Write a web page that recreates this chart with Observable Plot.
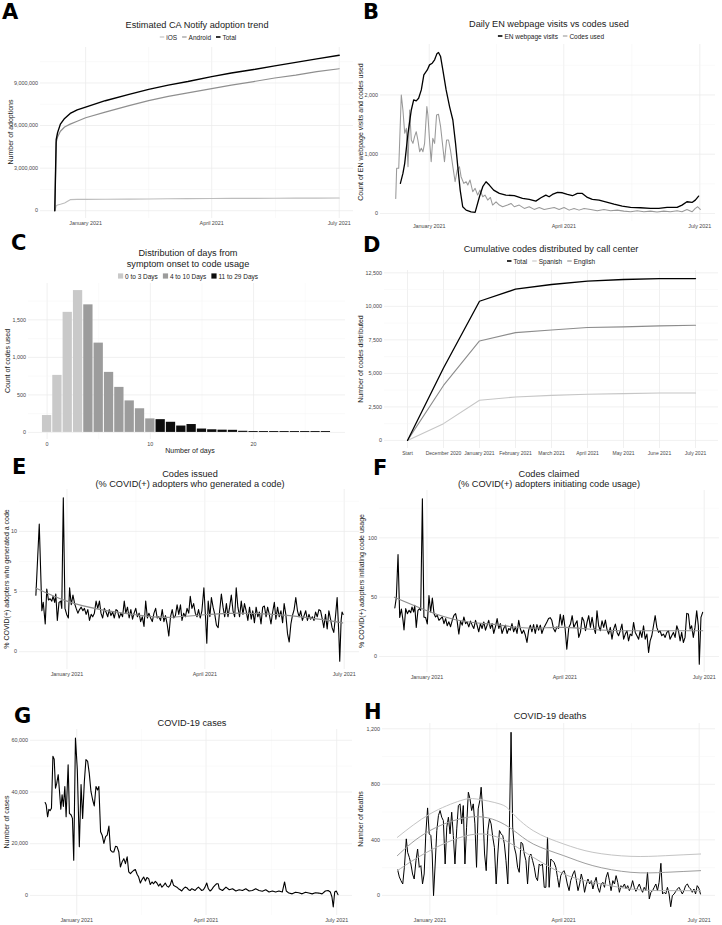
<!DOCTYPE html>
<html><head><meta charset="utf-8">
<script src="https://cdn.jsdelivr.net/npm/d3@7"></script>
<script src="https://cdn.jsdelivr.net/npm/@observablehq/plot@0.6"></script>
<style>
html,body{margin:0;padding:0;background:#fff;}
#root{position:relative;width:722px;height:925px;overflow:hidden;background:#fff;}
.pl{position:absolute;}
.pl svg{overflow:visible;display:block;}
#ov{position:absolute;left:0;top:0;pointer-events:none;}
</style></head><body><div id="root"></div>
<script>
// ---------------- DATA (days are offsets from 2021-01-01) ----------------
// A: adoption
const adoptDays    = [-22, -21, -20, -18, -15, -11, -6, 0, 14, 31, 45, 59, 73, 90, 104, 120, 135, 150, 165, 181];
const adoptTotal   = [0, 5.0e6, 5.5e6, 6.1e6, 6.5e6, 6.85e6, 7.1e6, 7.3e6, 7.75e6, 8.2e6, 8.55e6, 8.85e6, 9.1e6, 9.45e6, 9.7e6, 9.95e6, 10.2e6, 10.45e6, 10.7e6, 10.95e6];
const adoptAndroid = [0, 4.8e6, 5.2e6, 5.6e6, 5.9e6, 6.1e6, 6.3e6, 6.55e6, 6.95e6, 7.4e6, 7.75e6, 8.05e6, 8.3e6, 8.6e6, 8.85e6, 9.1e6, 9.35e6, 9.55e6, 9.8e6, 10.0e6];
const adoptIOS     = [0, 0.35e6, 0.4e6, 0.45e6, 0.55e6, 0.78e6, 0.8e6, 0.8e6, 0.81e6, 0.82e6, 0.83e6, 0.84e6, 0.85e6, 0.86e6, 0.87e6, 0.87e6, 0.88e6, 0.89e6, 0.89e6, 0.9e6];

// B: EN webpage visits vs codes used  [day, value]
const enVisits = [[-19.3,507],[-17.6,676],[-16.4,845],[-14.2,1352],[-12,1746],[-10.4,1915],[-8.7,1900],[-7.1,1944],[-5.3,2085],[-3.6,2338],[-1.3,2422],[0.2,2507],[2,2535],[3.6,2592],[5.1,2693],[6.2,2715],[7.6,2648],[9.1,2422],[11.3,2085],[13.6,1803],[15.8,1577],[17.6,1183],[19.1,789],[20.7,394],[22.4,113],[24.7,56],[28,28],[30.7,17],[33.6,282],[35.8,451],[38,535],[40.2,479],[43.1,394],[46.9,338],[51.3,310],[56.9,299],[62.4,254],[66.9,237],[71.3,208],[74.7,265],[78,310],[80.2,282],[82.4,321],[85.8,355],[89.1,349],[92.4,321],[95.8,299],[99.1,338],[102.4,338],[105.8,270],[109.1,237],[113.6,225],[118,197],[123.6,158],[129.1,124],[134.7,101],[141.3,96],[148,85],[153.6,85],[159.1,101],[165.8,101],[169.1,141],[172.4,197],[175.8,186],[178,225],[180.2,293]];
const codesUsed = [[-22.4,254],[-21.8,761],[-20.4,761],[-18.7,2000],[-17.6,1746],[-16.4,1352],[-15.3,1437],[-14.2,789],[-13.1,1746],[-12,1239],[-10.9,1183],[-9.8,1296],[-8.7,1380],[-7.6,1239],[-6.4,1042],[-5.3,1099],[-4.2,1042],[-3.1,1183],[-1.6,1803],[-0.9,1662],[0.2,1239],[1.3,873],[2.4,1268],[3.6,1183],[4.9,1662],[6.2,1673],[7.6,1465],[8.7,1211],[10.2,873],[11.6,1239],[12.9,1239],[14.2,1070],[15.8,789],[17.3,535],[18.7,732],[20.2,789],[21.3,620],[23.1,507],[24.7,535],[25.8,479],[27.3,563],[29.1,366],[30.7,423],[32.4,310],[34,394],[35.8,282],[37.3,310],[39.1,225],[40.9,270],[42.4,141],[44.7,197],[46.9,141],[49.1,113],[52.4,141],[54.7,169],[56.9,113],[60.2,141],[63.6,85],[66.9,113],[70.2,68],[73.6,101],[76.9,68],[80.2,85],[83.6,101],[86.9,68],[90.2,101],[93.6,56],[96.9,85],[100.2,56],[103.6,85],[108,68],[112.4,45],[116.9,68],[121.3,45],[125.8,56],[130.2,39],[134.7,28],[139.1,45],[143.6,28],[148,39],[152.4,23],[156.9,39],[161.3,28],[165.8,45],[169.1,28],[172.4,68],[175.8,28],[178,85],[179.6,113],[181.3,68]];

// C: distribution of days from symptom onset to code usage
const histDays   = [0,1,2,3,4,5,6,7,8,9,10,11,12,13,14,15,16,17,18,19,20,21,22,23,24,25,26,27];
const histCounts = [225,760,1600,1890,1700,1190,800,600,420,315,180,170,135,85,105,45,35,30,28,15,12,12,12,12,12,12,12,12];
const histGroups = ["0 to 3 Days","4 to 10 Days","11 to 29 Days"];

// D: cumulative codes by call center
const ccMonths  = ["Start","December 2020","January 2021","February 2021","March 2021","April 2021","May 2021","June 2021","July 2021"];
const ccTotal   = [0,5400,10380,11280,11630,11880,12000,12070,12070];
const ccEnglish = [0,4100,7420,8040,8240,8420,8470,8540,8590];
const ccSpanish = [0,1250,2990,3240,3360,3440,3490,3540,3540];

// E: codes issued (% COVID+ adopters who generated a code)
const issued = [[-20.3,4.7],[-18.1,10.6],[-16.4,3.4],[-15.5,4.1],[-14.2,2.3],[-13.2,5.2],[-12.1,4.3],[-11.0,4.4],[-9.9,4.2],[-9.1,4.6],[-8.0,4.1],[-7.3,4.8],[-6.3,2.6],[-5.2,4.1],[-4.1,4.2],[-3.4,3.6],[-2.4,12.8],[-1.3,3.6],[-0.2,3.1],[0.9,2.8],[1.7,5.3],[2.8,3.9],[3.9,4.7],[5.0,4.0],[6.0,3.6],[7.1,3.2],[8.2,3.5],[9.3,3.7],[10.4,3.4],[11.4,3.6],[12.5,3.1],[13.6,3.5],[14.7,2.6],[15.8,3.1],[16.8,2.9],[17.9,3.2],[19.0,4.2],[20.1,3.6],[21.2,4.2],[22.2,3.2],[23.3,2.8],[24.4,3.6],[25.5,3.3],[26.6,2.9],[27.6,3.5],[28.7,3.0],[29.8,3.3],[30.9,2.8],[32.0,3.5],[33.0,3.4],[34.1,2.8],[35.2,3.2],[36.3,2.9],[37.4,4.2],[38.4,3.2],[39.5,3.7],[40.6,2.8],[41.7,3.5],[42.8,2.7],[43.8,3.2],[44.9,3.6],[46.0,2.9],[47.1,3.2],[48.1,2.5],[49.2,2.9],[50.3,2.1],[51.4,4.2],[52.5,2.8],[53.5,3.2],[54.6,2.8],[55.7,2.5],[56.8,3.2],[57.9,3.6],[58.9,2.8],[60.0,2.9],[61.1,2.6],[62.2,3.5],[63.3,2.5],[64.3,3.0],[65.4,2.3],[66.5,1.3],[67.6,2.9],[68.7,3.5],[69.7,2.8],[70.8,3.0],[71.9,3.9],[73.0,3.1],[74.1,3.9],[75.1,2.6],[76.2,3.2],[77.3,2.9],[78.4,3.6],[79.5,3.2],[80.5,4.6],[81.6,3.6],[82.7,4.0],[83.8,3.2],[84.9,2.9],[85.9,3.5],[87.0,2.8],[88.1,3.4],[89.4,5.3],[90.5,2.8],[91.3,0.7],[92.2,4.2],[93.3,2.9],[94.3,4.5],[95.4,3.7],[96.5,3.1],[97.6,2.2],[98.7,2.0],[99.7,3.4],[100.8,4.8],[101.9,3.7],[103.0,2.9],[104.1,4.0],[105.1,2.9],[106.2,3.7],[107.3,4.7],[108.4,3.4],[109.5,2.9],[110.5,5.3],[111.6,3.7],[112.7,2.9],[113.8,4.2],[114.9,3.1],[115.9,4.0],[117.0,3.4],[118.1,2.6],[119.2,3.7],[120.3,2.7],[121.3,3.4],[122.4,2.4],[123.5,3.7],[124.6,2.9],[125.6,3.3],[126.7,2.3],[127.8,3.7],[128.9,3.8],[130.0,2.9],[131.0,3.7],[132.1,3.1],[133.2,2.3],[134.3,3.3],[135.4,4.1],[136.4,2.7],[137.5,3.7],[138.6,2.9],[139.7,3.4],[140.8,2.4],[141.8,4.0],[142.9,3.1],[144.0,1.5],[145.1,0.8],[146.2,2.3],[147.2,3.0],[148.3,3.5],[149.4,4.5],[150.5,3.4],[151.6,2.9],[152.6,3.4],[153.7,2.6],[154.8,3.0],[155.9,3.4],[157.0,2.6],[158.0,3.1],[159.1,2.7],[160.2,2.9],[161.3,2.6],[162.3,3.3],[163.4,2.9],[164.5,3.5],[165.6,3.4],[166.7,2.7],[167.7,2.0],[168.8,3.1],[169.9,1.9],[171.0,3.4],[172.1,2.7],[173.1,2.0],[174.2,1.6],[175.3,2.9],[176.4,4.5],[177.5,1.5],[178.1,-0.8],[179.0,2.6],[179.6,3.3],[180.3,3.1]];
const issuedSmooth = [[-20.5,5.3],[0,4.2],[22,3.5],[45.1,3.07],[65.2,2.85],[90,3.07],[112.7,3.2],[134.7,3.1],[155.9,2.85],[180,2.4]];

// F: codes claimed (% COVID+ adopters initiating code usage)
const claimed = [[-21.0,40.9],[-20.0,49.8],[-18.9,85.9],[-17.8,32.9],[-16.7,40.0],[-15.6,30.0],[-15.0,22.3],[-13.9,40.3],[-12.8,36.1],[-11.7,38.9],[-10.6,36.9],[-9.8,41.7],[-8.7,37.5],[-8.0,43.1],[-7.0,24.5],[-5.9,38.9],[-4.8,40.3],[-4.1,38.9],[-3.0,132.9],[-2.0,33.2],[-0.9,32.9],[0.2,27.4],[1.3,51.3],[2.4,37.5],[3.5,49.3],[4.6,36.1],[5.6,33.3],[6.7,34.7],[7.8,30.5],[8.9,31.9],[10.0,33.3],[11.1,27.7],[12.2,31.9],[13.2,25.9],[14.3,29.2],[15.4,25.1],[16.5,30.5],[17.6,34.7],[18.7,36.1],[19.7,29.8],[20.8,18.9],[21.9,29.8],[23.0,26.4],[24.1,33.3],[25.2,27.7],[26.2,29.1],[27.3,25.0],[28.4,29.8],[29.5,26.4],[30.6,23.6],[31.7,30.5],[32.7,26.4],[33.8,20.8],[34.9,27.7],[36.0,23.6],[37.1,29.1],[38.2,22.2],[39.3,26.4],[40.3,30.5],[41.4,23.6],[42.5,27.7],[43.6,19.4],[44.7,25.0],[45.8,32.0],[46.9,23.6],[47.9,27.7],[49.0,19.4],[50.1,23.6],[51.2,26.4],[52.3,19.4],[53.4,23.6],[54.4,22.2],[55.5,27.7],[56.6,20.8],[57.7,25.0],[58.8,19.4],[59.9,30.5],[60.9,23.6],[62.0,19.4],[63.1,22.2],[64.2,18.1],[65.3,11.9],[66.4,22.2],[67.5,26.4],[68.5,20.8],[69.6,26.9],[70.7,19.4],[71.8,26.9],[72.9,22.2],[74.0,26.4],[75.0,19.4],[76.1,23.6],[77.2,26.4],[78.3,29.1],[79.4,32.0],[80.5,32.7],[81.5,30.5],[82.6,23.6],[83.7,20.8],[84.8,25.0],[85.9,23.6],[87.0,35.5],[88.1,26.4],[89.1,34.7],[90.2,23.6],[91.3,6.2],[92.6,24.5],[93.7,27.3],[94.8,34.4],[95.9,24.5],[96.9,27.3],[98.0,30.1],[99.1,16.1],[100.2,20.3],[101.3,33.0],[102.4,30.1],[103.5,21.7],[104.5,28.7],[105.6,34.4],[106.7,24.5],[107.8,33.0],[108.9,24.5],[110.0,19.4],[111.0,38.6],[112.1,25.9],[113.2,21.7],[114.3,30.1],[115.4,24.5],[116.5,30.7],[117.5,23.1],[118.6,18.9],[119.7,24.5],[120.8,14.6],[121.9,23.1],[123.0,27.3],[124.1,20.3],[125.1,17.5],[126.2,21.7],[127.3,27.3],[128.4,14.6],[129.5,18.9],[130.6,21.7],[131.6,13.2],[132.7,18.9],[133.8,17.5],[134.9,28.7],[136.0,20.3],[137.1,17.5],[138.2,14.6],[139.2,21.7],[140.3,16.1],[141.4,25.9],[142.5,14.6],[143.6,18.9],[144.7,3.4],[145.7,13.2],[146.8,17.5],[147.9,25.9],[149.0,34.4],[150.1,24.5],[151.2,20.3],[152.2,21.7],[153.3,17.5],[154.4,18.9],[155.5,16.1],[156.6,20.3],[157.7,21.7],[158.7,14.6],[159.8,17.5],[160.9,20.3],[162.0,16.1],[163.1,25.9],[164.2,21.7],[165.3,13.2],[166.3,20.3],[167.4,11.8],[168.5,16.1],[169.6,36.3],[170.7,35.8],[171.8,23.1],[172.8,25.9],[173.9,16.1],[175.0,24.5],[176.1,38.6],[177.2,25.9],[177.8,-6.5],[178.9,33.0],[180.0,37.2]];
const claimedSmooth = [[-21.3,49.9],[0,38.6],[22.1,30.1],[44.9,26.8],[65.5,24],[90,24.5],[113.2,22.3],[134.9,21.7],[156.6,21.7],[180,21.7]];

// G: COVID-19 cases
const cases = [[-22.0,35900],[-21.3,35100],[-20.3,30400],[-19.4,33300],[-18.5,32800],[-17.6,33700],[-16.6,53800],[-15.7,52700],[-14.8,41500],[-13.9,43400],[-12.9,46700],[-12.0,40200],[-11.1,33300],[-10.2,38900],[-9.3,34400],[-8.3,42100],[-7.4,30400],[-6.0,50500],[-5.1,31700],[-3.9,31100],[-3.0,29800],[-2.1,13600],[-0.9,60900],[0.4,48600],[1.8,18800],[3.0,42900],[4.1,29800],[5.3,44100],[6.4,52500],[7.6,51800],[8.7,47300],[9.9,40200],[11.1,36900],[12.2,34600],[13.4,42100],[14.5,40800],[15.4,42100],[16.6,24600],[17.7,23300],[18.9,20100],[20.1,22700],[21.2,23300],[22.4,26800],[23.5,17500],[24.7,16800],[25.8,16800],[27.0,19000],[28.1,18800],[29.3,16800],[30.4,11000],[31.6,13000],[32.8,14200],[33.9,12300],[35.1,14900],[36.2,9100],[37.4,8400],[38.5,9100],[39.7,9700],[40.8,10000],[42.0,8200],[43.1,7100],[44.3,4800],[45.4,6100],[46.6,7100],[47.8,5600],[48.9,6900],[50.1,6500],[51.2,4200],[52.4,5200],[53.5,4500],[54.7,5400],[55.8,4800],[57.0,3600],[58.1,4500],[59.3,3200],[60.5,3900],[61.6,4800],[62.8,3600],[63.9,3200],[65.1,4100],[66.2,6100],[67.4,3900],[68.5,3500],[69.7,3200],[70.8,2600],[72.0,2200],[73.1,1700],[74.3,2600],[75.5,3200],[76.6,3000],[77.8,2200],[78.9,1900],[80.1,2600],[81.2,2300],[82.4,1900],[83.5,2600],[84.7,3200],[85.8,2600],[87.0,1900],[88.2,2200],[89.3,3200],[90.5,4800],[91.6,2600],[92.8,1700],[93.9,2200],[95.1,3200],[96.2,3900],[97.4,4500],[98.5,4500],[99.2,2600],[101.5,1900],[103.9,3200],[106.2,2200],[108.5,2600],[110.8,1700],[113.1,2200],[115.4,1900],[117.7,2600],[120.0,1700],[122.3,1900],[124.6,2600],[126.9,1900],[129.2,1600],[131.6,2200],[133.9,1300],[136.2,1700],[138.5,1300],[140.8,1700],[143.1,1300],[144.7,5200],[145.9,1700],[147.7,900],[150.0,600],[152.3,1200],[154.6,1000],[156.9,600],[159.3,1200],[161.6,900],[163.9,600],[166.2,1000],[168.5,900],[170.8,600],[173.1,1700],[175.0,1900],[176.6,1300],[177.7,-600],[178.6,-4500],[179.6,1300],[180.7,1700],[181.9,300]];

// H: COVID-19 deaths
const deaths = [[-21.6,183],[-20.5,133],[-19.4,106],[-18.2,82],[-17.1,202],[-15.8,407],[-14.9,310],[-13.8,274],[-12.7,226],[-11.6,154],[-10.5,118],[-9.3,250],[-8.2,334],[-7.1,202],[-6.0,214],[-4.9,82],[-3.8,154],[-2.7,443],[-1.5,630],[-0.4,443],[0.7,431],[1.6,298],[2.5,-2],[3.6,226],[4.7,467],[5.8,575],[6.9,611],[8.0,563],[9.1,539],[10.3,226],[11.4,491],[12.5,563],[13.6,443],[14.7,599],[15.8,431],[16.9,226],[18.1,479],[19.2,647],[20.3,659],[21.4,515],[22.5,647],[23.6,226],[24.7,491],[25.9,743],[27.0,695],[28.1,611],[29.2,659],[30.3,515],[31.4,202],[32.5,623],[33.6,683],[34.5,779],[35.7,587],[36.8,298],[37.9,178],[39.0,467],[40.1,551],[41.2,515],[42.3,419],[43.4,346],[44.6,82],[45.7,298],[46.8,467],[47.9,443],[49.0,431],[50.1,371],[51.2,250],[52.4,82],[53.5,491],[54.6,1175],[55.7,491],[56.8,346],[57.9,298],[59.0,202],[60.1,166],[61.3,383],[62.4,371],[63.5,298],[64.6,250],[65.7,82],[66.8,274],[67.9,298],[69.1,250],[70.2,202],[71.3,130],[72.4,106],[73.5,226],[74.6,214],[75.7,226],[76.9,58],[78.0,58],[79.1,419],[80.2,58],[81.3,262],[82.4,250],[83.5,238],[84.7,202],[85.8,130],[86.9,58],[88.0,142],[89.1,166],[90.2,178],[91.3,142],[92.4,82],[93.6,34],[94.7,106],[96.2,154],[97.3,178],[98.5,106],[99.6,34],[100.7,82],[101.8,154],[102.9,106],[104.0,22],[105.1,77],[106.3,118],[107.4,82],[108.5,106],[109.6,46],[110.7,94],[111.8,130],[112.9,58],[114.1,22],[115.2,82],[116.3,94],[117.4,58],[118.5,130],[119.6,166],[120.7,106],[121.8,34],[123.0,106],[124.1,82],[125.2,142],[126.3,94],[127.4,22],[128.5,70],[129.6,58],[130.8,82],[131.9,46],[133.0,70],[134.1,34],[135.2,58],[136.3,106],[137.4,58],[138.5,29],[139.7,58],[140.8,82],[141.9,46],[143.0,22],[144.1,58],[145.2,34],[146.3,166],[147.5,-26],[148.6,22],[149.7,34],[150.8,58],[151.9,82],[153.0,34],[154.1,94],[155.3,231],[156.4,10],[157.5,22],[158.6,10],[159.7,58],[160.8,10],[161.9,-82],[163.0,-2],[164.2,10],[165.3,29],[166.4,46],[167.5,58],[168.6,34],[169.7,10],[170.8,34],[171.9,70],[173.1,82],[174.2,58],[175.3,46],[176.4,22],[177.5,46],[178.6,10],[179.7,70],[180.8,53],[181.9,10]];
const deathsUpper = [[-21.8,418],[0,586],[20.5,682],[31.6,694],[47.2,658],[55,598],[69.5,466],[90,370],[109.6,310],[135.2,281],[158.6,286],[182,298]];
const deathsMid   = [[-21.8,286],[0,466],[31.6,567],[55,478],[69.5,370],[90,286],[109.6,214],[135.2,166],[158.6,166],[182,178]];
const deathsLower = [[-21.8,178],[0,322],[31.6,442],[55,370],[69.5,274],[90,154],[109.6,94],[135.2,46],[158.6,34],[182,34]];

// ---------------- HELPERS ----------------
const T0 = Date.UTC(2021, 0, 1);
const day = d => new Date(T0 + d * 864e5);
const rows = pairs => pairs.map(([d, v]) => ({date: day(d), value: v}));
const FONT = '"Liberation Sans", Arial, Helvetica, sans-serif';
const TICK_COLOR = "#474747";
const TICK_FS = 5.4;
const MAJ = "#ebebeb", MIN = "#f5f5f5";
const root = document.getElementById("root");

function mkPlot(o) {
  const p = Plot.plot({
    width: o.w, height: o.h,
    marginLeft: o.ml, marginRight: o.mr, marginTop: o.mt, marginBottom: o.mb,
    style: {fontFamily: FONT, fontSize: TICK_FS + "px", overflow: "visible", background: "transparent", color: TICK_COLOR},
    x: o.x, y: o.y, marks: o.marks
  });
  const div = document.createElement("div");
  div.className = "pl";
  div.style.left = o.left + "px"; div.style.top = o.top + "px"; div.style.width = o.w + "px";
  div.appendChild(p);
  root.appendChild(div);
}
const gx = (vals, minor) => Plot.ruleX(vals, {stroke: minor ? MIN : MAJ, strokeWidth: minor ? 0.5 : 0.75});
const gy = (vals, minor) => Plot.ruleY(vals, {stroke: minor ? MIN : MAJ, strokeWidth: minor ? 0.5 : 0.75});
const axX = (vals, fmt) => Plot.axisX(vals, {tickSize: 0, tickPadding: 2.5, tickFormat: fmt, label: null, fill: TICK_COLOR, fontSize: TICK_FS});
const axY = (vals, fmt) => Plot.axisY(vals, {tickSize: 0, tickPadding: 2.5, tickFormat: fmt, label: null, fill: TICK_COLOR, fontSize: TICK_FS});
const monthFmt = d3.utcFormat("%B %Y");
const comma = d3.format(",");
const dateMajor = [day(0), day(90), day(181)];
const dateMinor = [day(45), day(135.5)];
const timeGrid = () => [gx(dateMinor, true), gx(dateMajor, false)];

// ---------------- A ----------------
const aRows = (vals, s) => adoptDays.map((d, i) => ({date: day(d), value: vals[i], s}));
mkPlot({left: 0, top: 44, w: 361, h: 186, ml: 40, mr: 8, mt: 3, mb: 12,
  x: {type: "utc", domain: [day(-32.2), day(191.2)]},
  y: {domain: [-547500, 11497500]},
  marks: [
    ...timeGrid(),
    gy([1.5e6, 4.5e6, 7.5e6, 10.5e6], true), gy([0, 3e6, 6e6, 9e6], false),
    Plot.line(aRows(adoptIOS, "iOS"), {x: "date", y: "value", stroke: "#bdbdbd", strokeWidth: 1.1}),
    Plot.line(aRows(adoptAndroid, "Android"), {x: "date", y: "value", stroke: "#8f8f8f", strokeWidth: 1.2}),
    Plot.line(aRows(adoptTotal, "Total"), {x: "date", y: "value", stroke: "#000", strokeWidth: 1.4}),
    axX(dateMajor, monthFmt), axY([0, 3e6, 6e6, 9e6], comma)
  ]});

// ---------------- B ----------------
mkPlot({left: 361, top: 40, w: 361, h: 194, ml: 19, mr: 7, mt: 4, mb: 13,
  x: {type: "utc", domain: [day(-32.6), day(191.5)]},
  y: {domain: [-136, 2851]},
  marks: [
    ...timeGrid(),
    gy([500, 1500, 2500], true), gy([0, 1000, 2000], false),
    Plot.line(rows(codesUsed), {x: "date", y: "value", stroke: "#999999", strokeWidth: 1.05}),
    Plot.line(rows(enVisits), {x: "date", y: "value", stroke: "#000", strokeWidth: 1.3}),
    axX(dateMajor, monthFmt), axY([0, 1000, 2000], comma)
  ]});

// ---------------- C ----------------
const histRows = histDays.map((d, i) => ({d, n: histCounts[i], g: d <= 3 ? histGroups[0] : d <= 10 ? histGroups[1] : histGroups[2]}));
const histFill = {[histGroups[0]]: "#c9c9c9", [histGroups[1]]: "#9c9c9c", [histGroups[2]]: "#0d0d0d"};
mkPlot({left: 0, top: 280, w: 361, h: 175, ml: 28, mr: 16, mt: 3, mb: 16,
  x: {domain: [-1.8, 28.9]},
  y: {domain: [-94.5, 1984.5]},
  marks: [
    gx([5, 15, 25], true), gx([0, 10, 20], false),
    gy([250, 750, 1250, 1750], true), gy([0, 500, 1000, 1500], false),
    ...histGroups.map(g => Plot.rect(histRows.filter(r => r.g === g), {x1: r => r.d - 0.45, x2: r => r.d + 0.45, y1: r => 0, y2: "n", fill: histFill[g]})),
    axX([0, 10, 20], d3.format("d")), axY([0, 500, 1000, 1500], comma)
  ]});

// ---------------- D ----------------
const ccRows = (vals) => ccMonths.map((m, i) => ({m, value: vals[i]}));
mkPlot({left: 361, top: 266, w: 361, h: 190, ml: 23, mr: 4, mt: 4, mb: 8,
  x: {type: "point", domain: ccMonths, padding: 0.6},
  y: {domain: [-603, 12673]},
  marks: [
    Plot.ruleX(ccMonths, {stroke: MAJ, strokeWidth: 0.75}),
    gy([1250, 3750, 6250, 8750, 11250], true), gy([0, 2500, 5000, 7500, 10000, 12500], false),
    Plot.line(ccRows(ccSpanish), {x: "m", y: "value", stroke: "#c6c6c6", strokeWidth: 1.1}),
    Plot.line(ccRows(ccEnglish), {x: "m", y: "value", stroke: "#8c8c8c", strokeWidth: 1.1}),
    Plot.line(ccRows(ccTotal), {x: "m", y: "value", stroke: "#000", strokeWidth: 1.3}),
    Plot.axisX(ccMonths, {tickSize: 0, tickPadding: 2.5, label: null, fill: TICK_COLOR, fontSize: 5.0}),
    axY([0, 2500, 5000, 7500, 10000, 12500], comma)
  ]});

// ---------------- E ----------------
mkPlot({left: 0, top: 485, w: 361, h: 195, ml: 19, mr: 2, mt: 4, mb: 11,
  x: {type: "utc", domain: [day(-31), day(191)]},
  y: {domain: [-1.48, 13.48]},
  marks: [
    ...timeGrid(),
    gy([2.5, 7.5, 12.5], true), gy([0, 5, 10], false),
    Plot.line(rows(issued), {x: "date", y: "value", stroke: "#000", strokeWidth: 1.1}),
    Plot.line(rows(issuedSmooth), {x: "date", y: "value", stroke: "#8e8e8e", strokeWidth: 1.2, curve: "natural"}),
    axX(dateMajor, monthFmt), axY([0, 5, 10], d3.format("d"))
  ]});

// ---------------- F ----------------
mkPlot({left: 361, top: 485, w: 361, h: 195, ml: 18, mr: 3, mt: 5, mb: 8,
  x: {type: "utc", domain: [day(-31), day(191)]},
  y: {domain: [-13.5, 139.9]},
  marks: [
    ...timeGrid(),
    gy([25, 75, 125], true), gy([0, 50, 100], false),
    Plot.line(rows(claimed), {x: "date", y: "value", stroke: "#000", strokeWidth: 1.1}),
    Plot.line(rows(claimedSmooth), {x: "date", y: "value", stroke: "#8e8e8e", strokeWidth: 1.2, curve: "natural"}),
    axX(dateMajor, monthFmt), axY([0, 50, 100], d3.format("d"))
  ]});

// ---------------- G ----------------
mkPlot({left: 0, top: 725, w: 361, h: 200, ml: 30, mr: 9, mt: 4, mb: 10,
  x: {type: "utc", domain: [day(-32.2), day(192)]},
  y: {domain: [-7770, 64170]},
  marks: [
    ...timeGrid(),
    gy([10000, 30000, 50000], true), gy([0, 20000, 40000, 60000], false),
    Plot.line(rows(cases), {x: "date", y: "value", stroke: "#000", strokeWidth: 1.1}),
    axX(dateMajor, monthFmt), axY([0, 20000, 40000, 60000], comma)
  ]});

// ---------------- H ----------------
mkPlot({left: 361, top: 719, w: 361, h: 206, ml: 21, mr: 7, mt: 4, mb: 10,
  x: {type: "utc", domain: [day(-31.8), day(192)]},
  y: {domain: [-145, 1238]},
  marks: [
    ...timeGrid(),
    gy([200, 600, 1000], true), gy([0, 400, 800, 1200], false),
    Plot.line(rows(deaths), {x: "date", y: "value", stroke: "#000", strokeWidth: 1.0}),
    Plot.line(rows(deathsUpper), {x: "date", y: "value", stroke: "#c4c4c4", strokeWidth: 1.0, curve: "natural"}),
    Plot.line(rows(deathsMid), {x: "date", y: "value", stroke: "#9e9e9e", strokeWidth: 1.0, curve: "natural"}),
    Plot.line(rows(deathsLower), {x: "date", y: "value", stroke: "#b2b2b2", strokeWidth: 1.0, curve: "natural"}),
    axX(dateMajor, monthFmt), axY([0, 400, 800, 1200], comma)
  ]});

// ---------------- TEXT OVERLAY ----------------
const ov = d3.select(root).append("svg").attr("id", "ov").attr("width", 722).attr("height", 925)
  .style("font-family", FONT);

function txt(x, y, s, size, o = {}) {
  const t = ov.append("text").attr("x", x).attr("y", y).text(s)
    .attr("font-size", size).attr("fill", o.fill || "#1a1a1a")
    .attr("text-anchor", o.anchor || "middle")
    .attr("dominant-baseline", o.baseline || "central");
  if (o.weight) t.attr("font-weight", o.weight);
  if (o.family) t.attr("font-family", o.family);
  if (o.rotate) t.attr("transform", `rotate(${o.rotate},${x},${y})`);
  return t;
}
function letter(x, baseline, s) {
  txt(x, baseline, s, 21, {anchor: "start", baseline: "alphabetic", weight: "bold", family: '"DejaVu Sans", sans-serif', fill: "#000"});
}
function legend(cx, cy, items, size = 6.5) {
  const g = ov.append("g");
  let x = 0;
  items.forEach(it => {
    if (it.kind === "sq") {
      g.append("rect").attr("x", x).attr("y", -2.6).attr("width", 5.2).attr("height", 5.2).attr("fill", it.color);
      x += 7;
    } else {
      g.append("line").attr("x1", x).attr("x2", x + 4.5).attr("y1", 0).attr("y2", 0)
        .attr("stroke", it.color).attr("stroke-width", it.lw || 1.1);
      x += 6.5;
    }
    const t = g.append("text").attr("x", x).attr("y", 0).text(it.label).attr("font-size", size)
      .attr("fill", "#1a1a1a").attr("dominant-baseline", "central");
    x += t.node().getComputedTextLength() + 5;
  });
  const total = x - 5;
  g.attr("transform", `translate(${cx - total / 2},${cy})`);
}

// panel letters
letter(2, 19, "A"); letter(363, 19, "B");
letter(11, 250, "C"); letter(363, 252, "D");
letter(12, 474, "E"); letter(373, 475, "F");
letter(14, 723, "G"); letter(364, 719, "H");

// titles
const TS = 9.2;
txt(197, 25, "Estimated CA Notify adoption trend", TS);
legend(198, 37, [{label: "iOS", color: "#bdbdbd"}, {label: "Android", color: "#8f8f8f"}, {label: "Total", color: "#000", lw: 1.6}]);
txt(549, 23.5, "Daily EN webpage visits vs codes used", TS);
legend(551, 36, [{label: "EN webpage visits", color: "#000", lw: 1.6}, {label: "Codes used", color: "#999999"}]);
txt(188, 253, "Distribution of days from", TS);
txt(188, 264, "symptom onset to code usage", TS);
legend(188, 276, [{label: "0 to 3 Days", color: "#c9c9c9", kind: "sq"}, {label: "4 to 10 Days", color: "#9c9c9c", kind: "sq"}, {label: "11 to 29 Days", color: "#0d0d0d", kind: "sq"}]);
txt(551, 249, "Cumulative codes distributed by call center", TS);
legend(551, 261, [{label: "Total", color: "#000", lw: 1.6}, {label: "Spanish", color: "#c6c6c6"}, {label: "English", color: "#8c8c8c"}]);
txt(190, 474, "Codes issued", TS);
txt(190, 484, "(% COVID(+) adopters who generated a code)", TS);
txt(549, 474, "Codes claimed", TS);
txt(549, 484, "(% COVID(+) adopters initiating code usage)", TS);
txt(192, 723, "COVID-19 cases", TS);
txt(550, 716, "COVID-19 deaths", TS);

// axis titles
const AS = 7;
txt(10, 132, "Number of adoptions", AS, {rotate: -90});
txt(360, 132, "Count of EN webpage visits and codes used", AS, {rotate: -90});
txt(7, 361, "Count of codes used", AS, {rotate: -90});
txt(190, 450, "Number of days", AS);
txt(360, 359, "Number of codes distributed", AS, {rotate: -90});
txt(6, 579, "% COVID(+) adopters who generated a code", AS, {rotate: -90});
txt(361, 581, "% COVID(+) adopters initiating code usage", AS, {rotate: -90});
txt(6, 822, "Number of cases", AS, {rotate: -90});
txt(360, 819, "Number of deaths", AS, {rotate: -90});
</script></body></html>
